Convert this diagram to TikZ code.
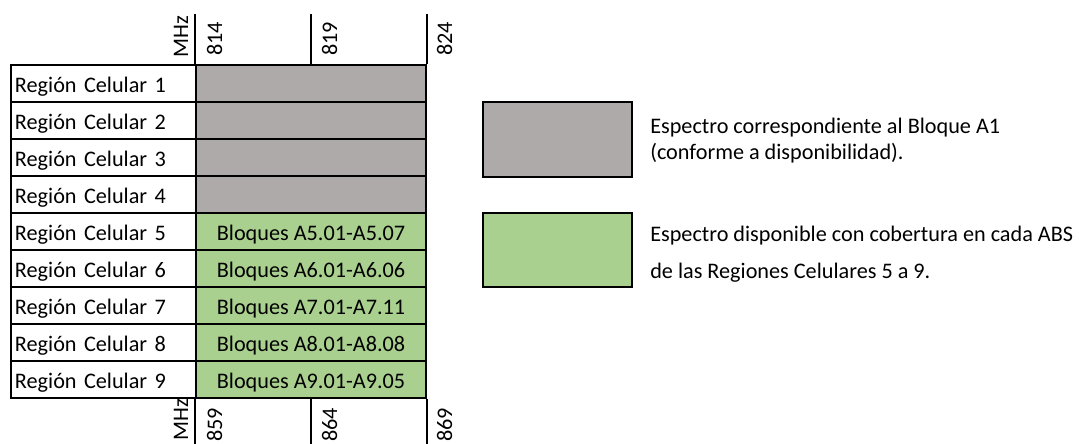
\documentclass[tikz,border=0pt]{standalone}
\usepackage{fontspec}
\setmainfont{Carlito}
\definecolor{bloqueGris}{HTML}{AEAAAA}
\definecolor{bloqueVerde}{HTML}{A9D08E}

\tikzset{
  texto/.style={font=\fontsize{15.8pt}{18pt}\selectfont},
  region/.style={texto, draw, rectangle, line width=1.2pt, inner sep=0pt, inner xsep=0.1cm,
    text width=4.425cm, align=left, minimum height=0.925cm, text height=0.425cm, text depth=0cm},
  bloque/.style={texto, draw, rectangle, line width=1.2pt, inner sep=0pt,
    minimum width=5.75cm, minimum height=0.925cm, text height=0.425cm, text depth=0cm},
  eje/.style={texto, rotate=90, anchor=base west, inner sep=0pt},
  leyenda/.style={texto, anchor=base west, inner sep=0pt},
  muestra/.style={draw, rectangle, line width=1.2pt, minimum width=3.725cm}
}

\begin{document}
\begin{tikzpicture}[x=0.025cm, y=-0.025cm]
    \useasboundingbox (0,0) rectangle (1079,443);

    % tabla de regiones
    \node[region] (r1) at (103.5,83.5) {Región Celular 1};
    \node[region] (r2) at (103.5,120.5) {Región Celular 2};
    \node[region] (r3) at (103.5,157.5) {Región Celular 3};
    \node[region] (r4) at (103.5,194.5) {Región Celular 4};
    \node[region] (r5) at (103.5,231.5) {Región Celular 5};
    \node[region] (r6) at (103.5,268.5) {Región Celular 6};
    \node[region] (r7) at (103.5,305.5) {Región Celular 7};
    \node[region] (r8) at (103.5,342.5) {Región Celular 8};
    \node[region] (r9) at (103.5,379.5) {Región Celular 9};

    \node[bloque, fill=bloqueGris] (b1) at (311,83.5) {};
    \node[bloque, fill=bloqueGris] (b2) at (311,120.5) {};
    \node[bloque, fill=bloqueGris] (b3) at (311,157.5) {};
    \node[bloque, fill=bloqueGris] (b4) at (311,194.5) {};
    \node[bloque, fill=bloqueVerde] (b5) at (311,231.5) {Bloques A5.01-A5.07};
    \node[bloque, fill=bloqueVerde] (b6) at (311,268.5) {Bloques A6.01-A6.06};
    \node[bloque, fill=bloqueVerde] (b7) at (311,305.5) {Bloques A7.01-A7.11};
    \node[bloque, fill=bloqueVerde] (b8) at (311,342.5) {Bloques A8.01-A8.08};
    \node[bloque, fill=bloqueVerde] (b9) at (311,379.5) {Bloques A9.01-A9.05};

    % ejes de frecuencia
    \draw[line width=1.2pt] (b1.north west) -- ++(0,-50);
    \draw[line width=1.2pt] (b1.north) -- ++(0,-50);
    \draw[line width=1.2pt] (b1.north east) -- ++(0,-50);
    \draw[line width=1.2pt] (b9.south west) -- ++(0,45);
    \draw[line width=1.2pt] (b9.south) -- ++(0,45);
    \draw[line width=1.2pt] (b9.south east) -- ++(0,45);

    \node[eje] (mhzA) at (188,58) {MHz};
    \node[eje] (f814) at (222,56) {814};
    \node[eje] (f819) at (337,56) {819};
    \node[eje] (f824) at (452,56) {824};
    \node[eje] (mhzB) at (188,441) {MHz};
    \node[eje] (f859) at (222,442) {859};
    \node[eje] (f864) at (337,442) {864};
    \node[eje] (f869) at (452,442) {869};

    % leyenda
    \node[muestra, fill=bloqueGris, minimum height=1.875cm] (lgris) at (557.5,139.5) {};
    \node[muestra, fill=bloqueVerde, minimum height=1.85cm] (lverde) at (557.5,250) {};
    \node[leyenda] (tgris1) at (650,133) {Espectro correspondiente al Bloque A1};
    \node[leyenda] (tgris2) at (650,159) {(conforme a disponibilidad).};
    \node[leyenda] (tverde1) at (650,241) {Espectro disponible con cobertura en cada ABS};
    \node[leyenda] (tverde2) at (650,278) {de las Regiones Celulares 5 a 9.};
\end{tikzpicture}
\end{document}
